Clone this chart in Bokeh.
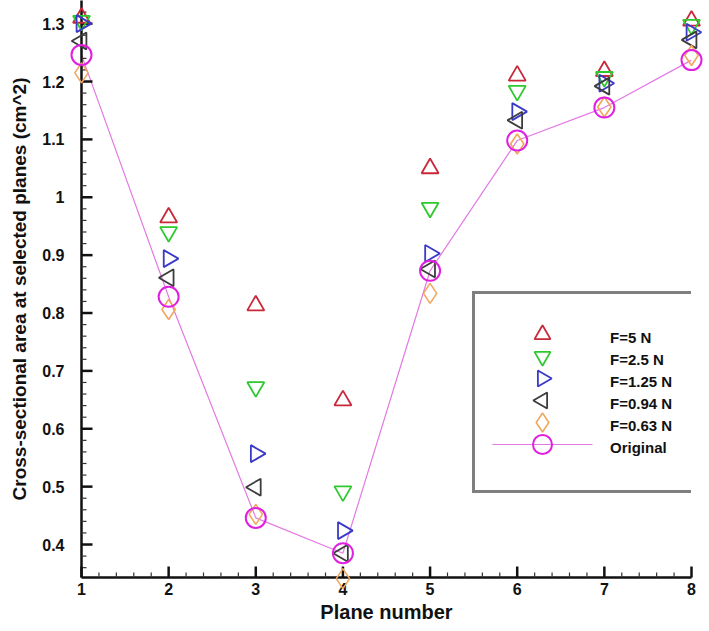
import math
from bokeh.plotting import figure
from bokeh.models import (Range1d, FixedTicker, CustomJSTickFormatter, Legend, LegendItem)
from bokeh.embed import file_html
from bokeh.resources import INLINE

# ---- data ----
planes = [1, 2, 3, 4, 5, 6, 7, 8]
f_5 = [1.310, 0.965, 0.813, 0.649, 1.050, 1.210, 1.218, 1.305]
f_2_5 = [1.305, 0.940, 0.672, 0.492, 0.982, 1.184, 1.208, 1.298]
f_1_25 = [1.300, 0.894, 0.557, 0.424, 0.903, 1.148, 1.197, 1.285]
f_0_94 = [1.270, 0.861, 0.499, 0.385, 0.876, 1.133, 1.192, 1.272]
f_0_63 = [1.215, 0.806, 0.452, 0.341, 0.834, 1.092, 1.156, 1.245]
original = [1.246, 0.828, 0.446, 0.385, 0.873, 1.098, 1.155, 1.237]

y_ticks = [0.4, 0.5, 0.6, 0.7, 0.8, 0.9, 1.0, 1.1, 1.2, 1.3]
x_ticks = [1, 2, 3, 4, 5, 6, 7, 8]
y_minor_step = 0.02
x_minor_step = 0.2

labels = ["F=5 N", "F=2.5 N", "F=1.25 N", "F=0.94 N", "F=0.63 N", "Original"]

FONT = "Liberation Sans"

W, H = 709, 631
BL, BR, BT, BB = 81, 18, 0, 54
X0, X1 = 1, 8
Y0, Y1 = 0.343, 1.34
frame_w = W - BL - BR
frame_h = H - BT - BB
px_x = (X1 - X0) / frame_w   # data units per pixel
px_y = (Y1 - Y0) / frame_h

p = figure(width=W, height=H, output_backend="svg", toolbar_location=None,
           x_range=Range1d(X0, X1), y_range=Range1d(Y0, Y1),
           min_border_left=BL, min_border_right=BR, min_border_top=BT, min_border_bottom=BB)
p.outline_line_color = None
p.xgrid.visible = False
p.ygrid.visible = False

# axes
p.xaxis.ticker = FixedTicker(ticks=x_ticks)
p.yaxis.ticker = FixedTicker(ticks=y_ticks)
p.yaxis.formatter = CustomJSTickFormatter(code="return tick.toFixed(1).replace(/\\.0$/, '');")
for ax in (p.xaxis[0], p.yaxis[0]):
    ax.axis_line_width = 2.5
    ax.axis_line_color = "#111111"
    ax.major_tick_in = 0
    ax.major_tick_out = 0
    ax.minor_tick_in = 0
    ax.minor_tick_out = 0
    ax.major_label_text_font = FONT
    ax.major_label_text_font_style = "bold"
    ax.major_label_text_font_size = "16px"
    ax.major_label_text_color = "#111111"
    ax.axis_label_text_font = FONT
    ax.axis_label_text_font_style = "bold"
    ax.axis_label_text_color = "#111111"

p.xaxis.axis_label = "Plane number"
p.xaxis.axis_label_text_font_size = "20px"
p.xaxis.major_label_standoff = 5
p.xaxis.axis_label_standoff = 3
p.yaxis.axis_label = "Cross-sectional area at selected planes (cm^2)"
p.yaxis.axis_label_text_font_size = "19px"
p.yaxis.major_label_standoff = 17
p.yaxis.axis_label_standoff = 9

# inward tick marks (segments from the axes, lengths converted from pixels)
y_minor = [round(Y0 - Y0 % y_minor_step + y_minor_step * i, 2) for i in range(60)]
y_minor = [v for v in y_minor if Y0 < v < Y1 and min(abs(v - t) for t in y_ticks) > 1e-6]
x_minor = [round(X0 + x_minor_step * i, 2) for i in range(40)]
x_minor = [v for v in x_minor if X0 < v < X1 and min(abs(v - t) for t in x_ticks) > 1e-6]
p.segment(x0=[X0] * len(y_ticks), y0=y_ticks, x1=[X0 + 11 * px_x] * len(y_ticks), y1=y_ticks,
          line_color="#111111", line_width=2.5, level="overlay")
p.segment(x0=[X0] * len(y_minor), y0=y_minor, x1=[X0 + 5 * px_x] * len(y_minor), y1=y_minor,
          line_color="#333333", line_width=1.2, level="overlay")
p.segment(x0=x_ticks, y0=[Y0] * len(x_ticks), x1=x_ticks, y1=[Y0 + 11 * px_y] * len(x_ticks),
          line_color="#111111", line_width=2.5, level="overlay")
p.segment(x0=x_minor, y0=[Y0] * len(x_minor), x1=x_minor, y1=[Y0 + 5 * px_y] * len(x_minor),
          line_color="#333333", line_width=1.2, level="overlay")

# series
p.line(planes, original, line_color="#e37ae3", line_width=1.2)

styles = [
    dict(marker="triangle", angle=0.0, size=17, line_color="#c8283a", line_width=1.8),
    dict(marker="inverted_triangle", angle=0.0, size=17, line_color="#2ec92e", line_width=1.8),
    dict(marker="triangle", angle=-math.pi / 2, size=17, line_color="#3a3ac8", line_width=1.8),
    dict(marker="triangle", angle=math.pi / 2, size=17, line_color="#3c3c3c", line_width=1.8),
    dict(marker="diamond", angle=0.0, size=20, line_color="#f0a860", line_width=1.6),
    dict(marker="circle", angle=0.0, size=20, line_color="#e020e0", line_width=2.0),
]
series = [f_5, f_2_5, f_1_25, f_0_94, f_0_63, original]
for ys, st in zip(series, styles):
    p.scatter(planes, ys, fill_color=None, level="overlay", **st)

# ---- legend (box + labels by Legend; symbols drawn at the legend rows) ----
LEG_LEFT, LEG_BOTTOM = 391, 84
PAD, GW, GH, SP = 33, 74, 20, 2
n_items = len(labels)
leg_h = 2 * PAD + n_items * GH + (n_items - 1) * SP + 6


def to_data(sx, sy):
    return (X0 + sx * px_x, Y0 + sy * px_y)


def row_center(k):
    top = LEG_BOTTOM + leg_h
    return top - PAD - GH / 2 - k * (GH + SP)


proxy = p.scatter([], [], marker="circle", line_alpha=0, fill_alpha=0)
legend = Legend(items=[LegendItem(label=lab, renderers=[proxy]) for lab in labels],
                location=(LEG_LEFT, LEG_BOTTOM))
legend.padding = PAD
legend.glyph_width = GW
legend.glyph_height = GH
legend.label_height = GH
legend.spacing = SP
legend.label_standoff = 28
legend.label_text_font = FONT
legend.label_text_font_style = "bold"
legend.label_text_font_size = "15px"
legend.label_text_color = "#111111"
legend.border_line_color = "#000000"
legend.border_line_width = 3
legend.background_fill_alpha = 0.0
legend.margin = 0
p.add_layout(legend)

mx = LEG_LEFT + PAD + GW / 2
# line sample for "Original"
la, lya = to_data(mx - 50, row_center(5))
lb, _ = to_data(mx + 50, row_center(5))
p.line([la, lb], [lya, lya], line_color="#e37ae3", line_width=1.2, level="overlay")
for k, st in enumerate(styles):
    lx, ly = to_data(mx, row_center(k))
    st2 = dict(st)
    st2["size"] = st["size"] - 1
    p.scatter([lx], [ly], fill_color=None, level="overlay", **st2)

open("out.html", "w").write(file_html(p, INLINE))
